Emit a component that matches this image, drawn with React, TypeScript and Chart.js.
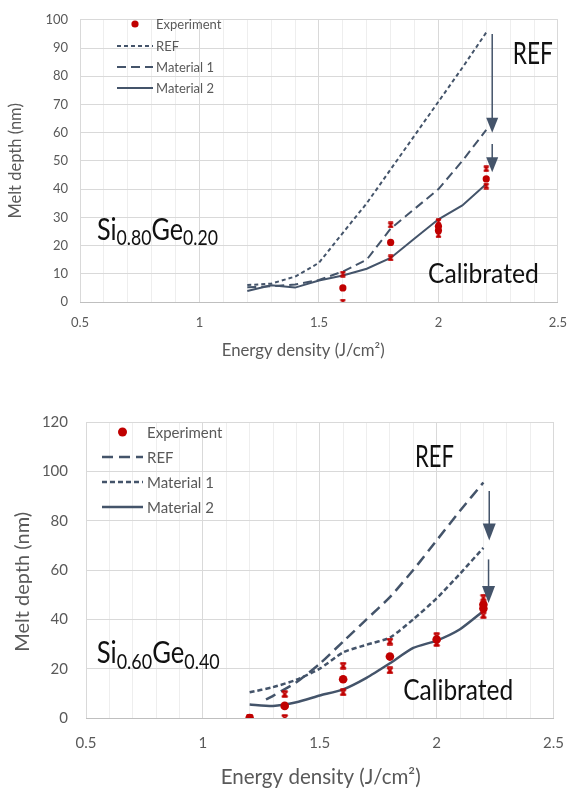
import React, { useEffect, useRef } from "react";
import { Chart, registerables } from "chart.js";

Chart.register(...registerables);

const RED = "#c00000";
const SLATE = "#44546a";
const GREY_TEXT = "#595959";

// ---------- series names, axis titles & tick labels ----------
const seriesNames = ["Experiment", "REF", "Material 1", "Material 2"];
const xTitle = "Energy density (J/cm²)";
const yTitle = "Melt depth (nm)";
const xMajorTicks = [0.5, 1, 1.5, 2, 2.5];
const xMajorLabels = ["0.5", "1", "1.5", "2", "2.5"];

// ---------- Top panel: Si0.80Ge0.20 ----------
const topExpX = [1.6, 1.8, 2.0, 2.0, 2.2];
const topExpY = [5, 21.1, 25.3, 26.8, 43.6];
const topErrX = [1.6, 1.8, 2.0, 2.2];
const topErrHigh = [9.9, 27.3, 28.5, 47.2];
const topErrLow = [0, 15.6, 23.8, 41.1];
const topCurveX = [1.2, 1.3, 1.4, 1.5, 1.6, 1.7, 1.8, 1.9, 2.0, 2.1, 2.2];
const topRef = [6, 6.5, 9, 13.9, 24.5, 35, 47, 59, 71, 83, 95.5];
const topMat1 = [5.2, 5.6, 6.2, 7.8, 10.8, 15, 26, 33, 40, 50, 61];
const topMat2 = [3.9, 5.9, 5.1, 7.6, 9.4, 11.8, 15.6, 22.5, 29.3, 34.2, 41.8];

// ---------- Bottom panel: Si0.60Ge0.40 ----------
const botExpX = [1.2, 1.35, 1.6, 1.8, 2.0, 2.2, 2.2];
const botExpY = [0, 4.9, 15.7, 24.9, 31.8, 44.4, 46];
const botErrX = [1.2, 1.35, 1.6, 1.8, 2.0, 2.2];
const botErrHigh = [0, 9.7, 21.2, 31, 33.2, 48.8];
const botErrLow = [0, 0, 10.4, 19.3, 30.4, 41.7];
const botRefX = [1.27, 1.3, 1.4, 1.5, 1.6, 1.7, 1.8, 1.9, 2.0, 2.1, 2.2];
const botRef = [7.5, 9, 14.5, 22, 31, 40, 49, 60, 72, 84, 95.5];
const botCurveX = [1.2, 1.3, 1.4, 1.5, 1.6, 1.7, 1.8, 1.9, 2.0, 2.1, 2.2];
const botMat1 = [10.4, 12.5, 15.5, 20, 26.6, 29.7, 32.6, 40, 48.5, 58.5, 69];
const botMat2 = [5.5, 4.9, 6.4, 9.1, 11.6, 16.3, 22.2, 28.4, 31.4, 36, 43.4];

const zip = (xs: number[], ys: number[]) => xs.map((x, i) => ({ x, y: ys[i] }));

function makeCapX(size: number, lw: number) {
  const c = document.createElement("canvas");
  c.width = size;
  c.height = size;
  const g = c.getContext("2d")!;
  g.strokeStyle = RED;
  g.lineWidth = lw;
  const m = lw / 2 + 0.3;
  g.beginPath();
  g.moveTo(m, m);
  g.lineTo(size - m, size - m);
  g.moveTo(size - m, m);
  g.lineTo(m, size - m);
  g.moveTo(m, m);
  g.lineTo(size - m, m);
  g.moveTo(m, size - m);
  g.lineTo(size - m, size - m);
  g.stroke();
  return c;
}

type Run = { t: string; size: number; dy: number };
type TextItem = { x: number; y: number; runs: Run[]; width: number };
type Arrow = { x: number; from: number; to: number };

function makePanelPlugin(p: any) {
  return {
    id: "panel" + p.name,
    afterDatasetsDraw(chart: any) {
      const ctx = chart.ctx as CanvasRenderingContext2D;
      const xs = chart.scales.x;
      const ys = chart.scales.y;
      ctx.save();
      // arrows
      (p.arrows as Arrow[]).forEach((a) => {
        const px = xs.getPixelForValue(a.x);
        const y0 = ys.getPixelForValue(a.from);
        const yt = ys.getPixelForValue(a.to);
        const yb = yt - p.headH;
        ctx.strokeStyle = SLATE;
        ctx.lineWidth = p.arrowW;
        ctx.setLineDash([]);
        ctx.beginPath();
        ctx.moveTo(px, y0);
        ctx.lineTo(px, yb + 1);
        ctx.stroke();
        ctx.fillStyle = SLATE;
        ctx.beginPath();
        ctx.moveTo(px - p.headHalf, yb);
        ctx.lineTo(px + p.headHalf, yb);
        ctx.lineTo(px, yt);
        ctx.closePath();
        ctx.fill();
      });
      // texts
      (p.texts as TextItem[]).forEach((t) => {
        let total = 0;
        t.runs.forEach((r) => {
          ctx.font = `${r.size}px Lato`;
          total += ctx.measureText(r.t).width;
        });
        const sx = t.width / total;
        const px = xs.getPixelForValue(t.x);
        const py = ys.getPixelForValue(t.y);
        ctx.save();
        ctx.translate(px, py);
        ctx.scale(sx, 1);
        ctx.fillStyle = "#111111";
        ctx.textBaseline = "alphabetic";
        ctx.textAlign = "left";
        let cx = 0;
        t.runs.forEach((r) => {
          ctx.font = `${r.size}px Lato`;
          ctx.fillText(r.t, cx, r.dy);
          cx += ctx.measureText(r.t).width;
        });
        ctx.restore();
      });
      ctx.restore();
    },
    afterDraw(chart: any) {
      const ctx = chart.ctx as CanvasRenderingContext2D;
      const area = chart.chartArea;
      const L = p.legend;
      const dsets = chart.data.datasets.filter((d: any) => !String(d.label).startsWith("_"));
      ctx.save();
      dsets.forEach((d: any, i: number) => {
        const yy = L.rows[i];
        if (!d.showLine) {
          ctx.fillStyle = RED;
          ctx.beginPath();
          ctx.arc((L.x0 + L.x1) / 2, yy, L.dotR, 0, Math.PI * 2);
          ctx.fill();
        } else {
          ctx.strokeStyle = SLATE;
          ctx.lineWidth = d.borderWidth;
          ctx.setLineDash(d.borderDash || []);
          ctx.beginPath();
          ctx.moveTo(L.x0, yy);
          ctx.lineTo(L.x1, yy);
          ctx.stroke();
          ctx.setLineDash([]);
        }
        ctx.fillStyle = GREY_TEXT;
        ctx.font = `${L.font}px Lato`;
        ctx.textBaseline = "middle";
        ctx.textAlign = "left";
        ctx.fillText(d.label, L.tx, yy + 1);
      });
      // axis titles
      const T = p.titles;
      ctx.fillStyle = GREY_TEXT;
      ctx.textBaseline = "middle";
      ctx.textAlign = "center";
      // x title (horizontally condensed like the source)
      ctx.font = `${T.xFont}px Lato`;
      const w = ctx.measureText(xTitle).width;
      ctx.save();
      ctx.translate(area.left + T.xCenterFrac * (area.right - area.left), chart.height - T.xFromBottom);
      ctx.scale(T.xWidth / w, 1);
      ctx.fillText(xTitle, 0, 0);
      ctx.restore();
      // y title
      ctx.font = `${T.yFont}px Lato`;
      ctx.save();
      ctx.translate(T.yLeft, area.top + T.yCenterFrac * (area.bottom - area.top));
      ctx.rotate(-Math.PI / 2);
      ctx.fillText(yTitle, 0, 0);
      ctx.restore();
      ctx.restore();
    },
  };
}

function buildConfig(p: any) {
  const cap = makeCapX(p.capSize, p.capLw);
  const isMajor = (v: number) => Math.abs(v * 2 - Math.round(v * 2)) < 1e-6;
  return {
    type: "scatter",
    data: {
      datasets: [
        {
          label: seriesNames[0],
          data: zip(p.expX, p.expY),
          pointStyle: "circle",
          pointRadius: p.dotR,
          backgroundColor: RED,
          borderColor: RED,
          borderWidth: 0,
          showLine: false,
        },
        { label: "_high", data: zip(p.errX, p.errHigh), pointStyle: cap, pointRadius: p.capSize / 2, showLine: false },
        { label: "_low", data: zip(p.errX, p.errLow), pointStyle: cap, pointRadius: p.capSize / 2, showLine: false },
        {
          label: seriesNames[1],
          data: zip(p.refX, p.ref),
          showLine: true,
          borderColor: SLATE,
          borderWidth: p.lw,
          borderDash: p.refDash,
          pointRadius: 0,
          tension: p.tension,
          fill: false,
        },
        {
          label: seriesNames[2],
          data: zip(p.curveX, p.mat1),
          showLine: true,
          borderColor: SLATE,
          borderWidth: p.lw,
          borderDash: p.mat1Dash,
          pointRadius: 0,
          tension: p.tension,
          fill: false,
        },
        {
          label: seriesNames[3],
          data: zip(p.curveX, p.mat2),
          showLine: true,
          borderColor: SLATE,
          borderWidth: p.lw,
          pointRadius: 0,
          tension: p.tension,
          fill: false,
        },
      ],
    },
    options: {
      responsive: false,
      animation: false,
      devicePixelRatio: 1,
      events: [],
      layout: { padding: { top: p.padTop, right: p.padRight, left: 0, bottom: 0 } },
      plugins: { legend: { display: false }, tooltip: { enabled: false } },
      scales: {
        x: {
          type: "linear",
          min: 0.5,
          max: 2.5,
          afterFit: (s: any) => {
            s.height = p.xHeight;
          },
          border: { display: true, color: "#bfbfbf", width: 1 },
          grid: {
            drawTicks: false,
            color: (c: any) => (c.tick && isMajor(c.tick.value) ? "#d9d9d9" : "#eeeeee"),
          },
          ticks: {
            stepSize: 0.1,
            autoSkip: false,
            maxRotation: 0,
            padding: p.xTickPad,
            color: GREY_TEXT,
            font: { family: "Lato", size: p.tickFont },
            callback: (v: number) => {
              const idx = xMajorTicks.findIndex((m) => Math.abs(m - v) < 1e-6);
              return idx >= 0 ? xMajorLabels[idx] : "";
            },
          },
          title: { display: false },
        },
        y: {
          type: "linear",
          min: 0,
          max: p.yMax,
          afterFit: (s: any) => {
            s.width = p.yWidth;
          },
          border: { display: false },
          grid: { drawTicks: false, color: "#d9d9d9" },
          ticks: {
            stepSize: p.yStep,
            padding: p.yTickPad,
            color: GREY_TEXT,
            font: { family: "Lato", size: p.tickFont },
          },
          title: { display: false },
        },
      },
    },
    plugins: [makePanelPlugin(p)],
  };
}

const topParams = {
  name: "top",
  expX: topExpX,
  expY: topExpY,
  errX: topErrX,
  errHigh: topErrHigh,
  errLow: topErrLow,
  refX: topCurveX,
  ref: topRef,
  curveX: topCurveX,
  mat1: topMat1,
  mat2: topMat2,
  yMax: 100,
  yStep: 10,
  padTop: 12,
  padRight: 22,
  yWidth: 80,
  xHeight: 63,
  tickFont: 13,
  xTickPad: 13,
  yTickPad: 12,
  lw: 2,
  refDash: [4, 3],
  mat1Dash: [9, 5],
  tension: 0,
  dotR: 3.6,
  capSize: 7,
  capLw: 1.6,
  arrowW: 1.5,
  headH: 15,
  headHalf: 6,
  titles: { xFont: 17, xWidth: 163, xCenterFrac: 0.467, xFromBottom: 14, yFont: 16.5, yLeft: 16, yCenterFrac: 0.5 },
  arrows: [
    { x: 2.225, from: 95, to: 60 },
    { x: 2.225, from: 56, to: 46 },
  ],
  texts: [
    { x: 2.311, y: 84.5, width: 40, runs: [{ t: "REF", size: 30, dy: 0 }] },
    { x: 1.956, y: 6.9, width: 111, runs: [{ t: "Calibrated", size: 27, dy: 0 }] },
    {
      x: 0.571,
      y: 22.1,
      width: 121,
      runs: [
        { t: "Si", size: 30, dy: 0 },
        { t: "0.80", size: 21, dy: 5 },
        { t: "Ge", size: 30, dy: 0 },
        { t: "0.20", size: 21, dy: 5 },
      ],
    },
  ],
  legend: { x0: 117, x1: 153, tx: 156, rows: [24, 46, 67, 88], font: 13, dotR: 3.6 },
};

const botParams = {
  name: "bot",
  expX: botExpX,
  expY: botExpY,
  errX: botErrX,
  errHigh: botErrHigh,
  errLow: botErrLow,
  refX: botRefX,
  ref: botRef,
  curveX: botCurveX,
  mat1: botMat1,
  mat2: botMat2,
  yMax: 120,
  yStep: 20,
  padTop: 19,
  padRight: 12,
  yWidth: 86,
  xHeight: 75,
  tickFont: 15,
  xTickPad: 16,
  yTickPad: 18,
  lw: 2.5,
  refDash: [11, 6],
  mat1Dash: [5, 3],
  tension: 0.2,
  dotR: 4.3,
  capSize: 8,
  capLw: 1.8,
  arrowW: 1.5,
  headH: 17,
  headHalf: 6.5,
  titles: { xFont: 21, xWidth: 200, xCenterFrac: 0.502, xFromBottom: 16, yFont: 20, yLeft: 23, yCenterFrac: 0.54 },
  arrows: [
    { x: 2.225, from: 92, to: 72 },
    { x: 2.222, from: 64.3, to: 46.6 },
  ],
  texts: [
    { x: 1.907, y: 101.9, width: 39, runs: [{ t: "REF", size: 31, dy: 0 }] },
    { x: 1.857, y: 7.1, width: 110, runs: [{ t: "Calibrated", size: 29, dy: 0 }] },
    {
      x: 0.546,
      y: 22.1,
      width: 123,
      runs: [
        { t: "Si", size: 30, dy: 0 },
        { t: "0.60", size: 21, dy: 6 },
        { t: "Ge", size: 30, dy: 0 },
        { t: "0.40", size: 21, dy: 6 },
      ],
    },
  ],
  legend: { x0: 102, x1: 143, tx: 147, rows: [37, 62, 87, 112], font: 15, dotR: 4.5 },
};

function Panel({ params, top, height }: { params: any; top: number; height: number }) {
  const ref = useRef<HTMLCanvasElement | null>(null);
  useEffect(() => {
    if (!ref.current) return;
    const chart = new Chart(ref.current, buildConfig(params) as any);
    return () => chart.destroy();
  }, [params]);
  return (
    <canvas
      ref={ref}
      width={580}
      height={height}
      style={{ position: "absolute", left: 0, top, width: 580, height }}
    />
  );
}

export default function App() {
  return (
    <div style={{ position: "absolute", left: 0, top: 0, width: 580, height: 793, background: "#ffffff" }}>
      <Panel params={topParams} top={0} height={365} />
      <Panel params={botParams} top={395} height={398} />
    </div>
  );
}
